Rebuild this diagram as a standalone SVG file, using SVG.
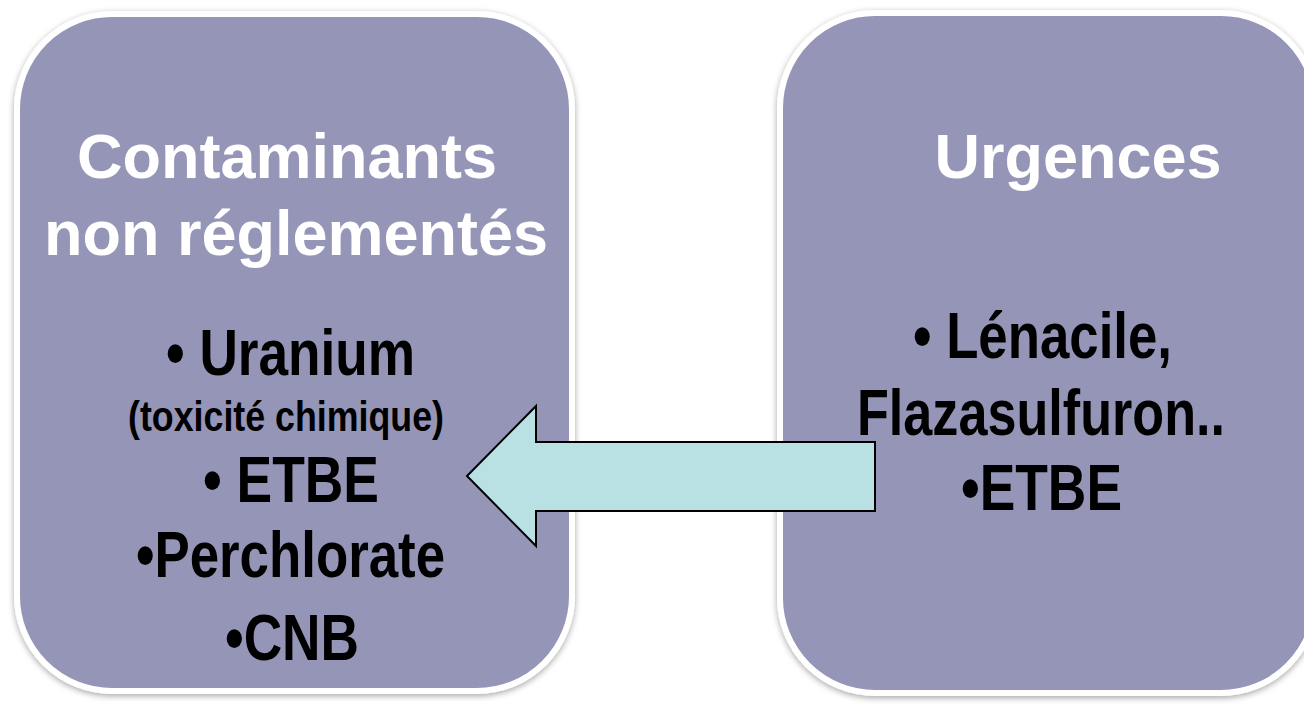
<svg xmlns="http://www.w3.org/2000/svg" width="1304" height="707" viewBox="0 0 1304 707">
  <defs>
    <filter id="shadow" x="-10%" y="-10%" width="120%" height="120%">
      <feDropShadow dx="0" dy="2" stdDeviation="3" flood-color="#000" flood-opacity="0.35"/>
    </filter>
  </defs>
  <style>
    .box { fill: #9595B8; stroke: #FFFFFF; stroke-width: 6; filter: url(#shadow); }
    .head { font-family: "Liberation Sans", Arial, sans-serif; font-weight: bold; font-size: 63px; fill: #FFFFFF; text-anchor: middle; }
    .item { font-family: "Liberation Sans Narrow", "Arial Narrow", "Liberation Sans", Arial, sans-serif; font-weight: bold; font-size: 64px; fill: #000000; }
    .small { font-size: 42px; }
    .arrow { fill: #B9E0E3; stroke: #000000; stroke-width: 2; stroke-linejoin: miter; }
  </style>
  <rect width="1304" height="707" fill="#FFFFFF"/>

  <g id="node-contaminants">
    <rect class="box" x="17" y="14" width="555" height="677" rx="95" ry="95"/>
    <text class="head" x="287" y="178">Contaminants</text>
    <text class="head" x="296" y="255">non réglementés</text>
    <text class="item" x="166" y="375" textLength="249" lengthAdjust="spacingAndGlyphs">• Uranium</text>
    <text class="item small" x="128" y="431" textLength="316" lengthAdjust="spacingAndGlyphs">(toxicité chimique)</text>
    <text class="item" x="203" y="502" textLength="176" lengthAdjust="spacingAndGlyphs">• ETBE</text>
    <text class="item" x="136" y="577" textLength="309" lengthAdjust="spacingAndGlyphs">•Perchlorate</text>
    <text class="item" x="225" y="660" textLength="134" lengthAdjust="spacingAndGlyphs">•CNB</text>
  </g>

  <g id="node-urgences">
    <rect class="box" x="780" y="13" width="536" height="680" rx="95" ry="95"/>
    <text class="head" x="1078" y="178">Urgences</text>
    <text class="item" x="913" y="358" textLength="259" lengthAdjust="spacingAndGlyphs">• Lénacile,</text>
    <text class="item" x="857" y="435" textLength="368" lengthAdjust="spacingAndGlyphs">Flazasulfuron..</text>
    <text class="item" x="961" y="510" textLength="161" lengthAdjust="spacingAndGlyphs">•ETBE</text>
  </g>

  <g id="connectors">
    <polygon class="arrow" points="467,476 536,406 536,442 875,442 875,511 536,511 536,546"/>
  </g>
</svg>
